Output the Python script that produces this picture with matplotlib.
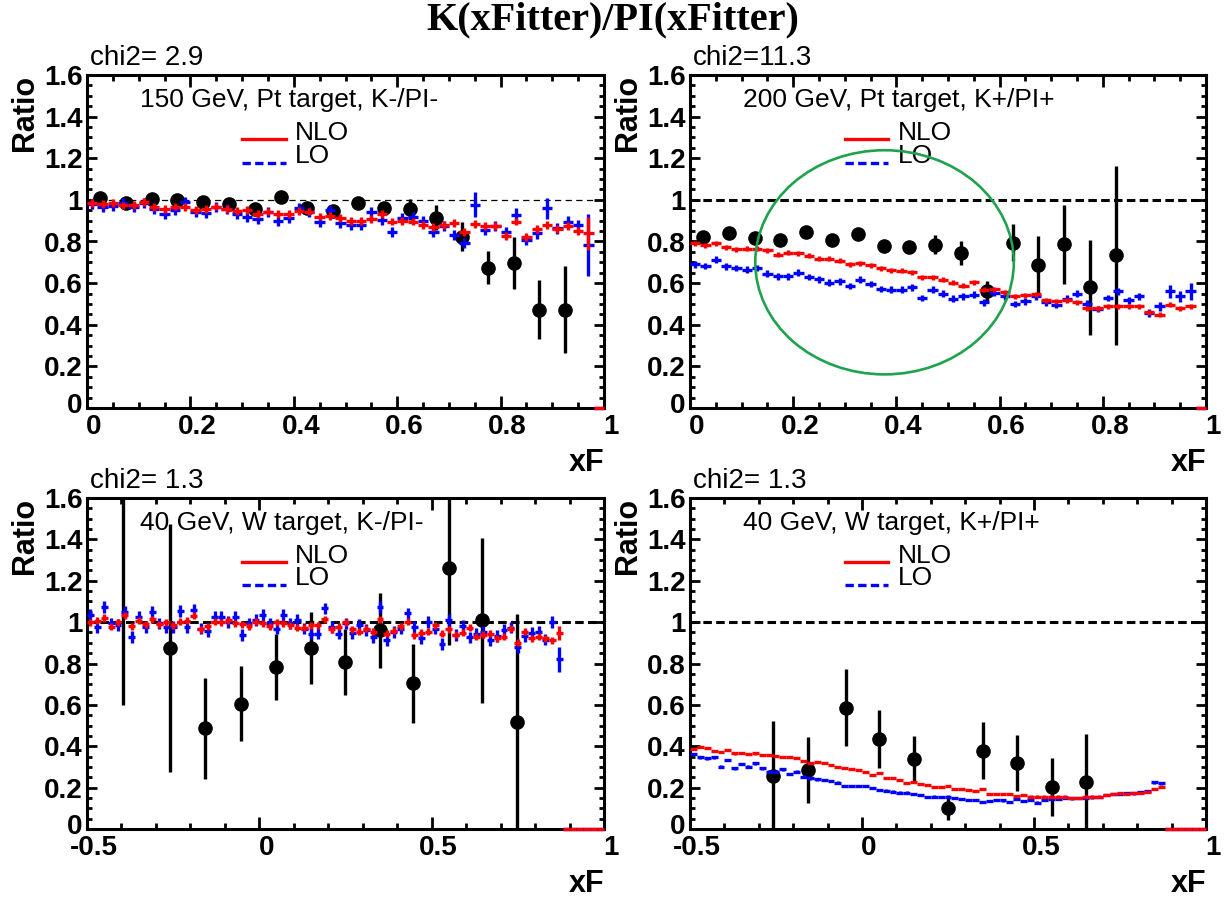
import numpy as np
import matplotlib.pyplot as plt
from matplotlib.patches import Ellipse
from matplotlib.ticker import MultipleLocator
from matplotlib.transforms import ScaledTranslation

plt.rcParams['font.family'] = ['Liberation Sans', 'DejaVu Sans']

# --- top left: 150 GeV, Pt, K-/PI-  (bins of 0.02 from 0 to 1, last bin empty)
tl_nlo = [0.984, 0.979, 0.984, 0.973, 0.976, 0.989, 0.965, 0.955, 0.968, 0.965,
          0.952, 0.955, 0.968, 0.955, 0.947, 0.952, 0.932, 0.944, 0.931, 0.931,
          0.947, 0.944, 0.920, 0.923, 0.915, 0.900, 0.900, 0.907, 0.932, 0.896,
          0.899, 0.896, 0.879, 0.871, 0.879, 0.887, 0.847, 0.884, 0.876, 0.875,
          0.826, 0.896, 0.823, 0.859, 0.879, 0.859, 0.875, 0.850, 0.839, 0.0]
tl_nlo_err = [0.019]*48 + [0.08, 0.0]
tl_lo = [0.979, 0.965, 0.971, 0.984, 0.965, 0.984, 0.955, 0.931, 0.952, 0.992,
         0.944, 0.939, 0.965, 0.955, 0.932, 0.920, 0.907, 0.944, 0.899, 0.912,
         0.960, 0.944, 0.896, 0.952, 0.891, 0.879, 0.879, 0.944, 0.904, 0.847,
         0.912, 0.920, 0.899, 0.847, 0.875, 0.831, 0.794, 0.976, 0.855, 0.875,
         0.847, 0.928, 0.807, 0.839, 0.960, 0.863, 0.896, 0.879, 0.783, 0.0]
tl_lo_err = [0.024]*37 + [0.06, 0.025, 0.025, 0.025, 0.035, 0.025, 0.025,
                          0.05, 0.025, 0.025, 0.025, 0.15, 0.0]
tl_data_x = [0.025, 0.075, 0.125, 0.175, 0.225, 0.275, 0.325, 0.375, 0.425, 0.475,
             0.525, 0.575, 0.625, 0.675, 0.725, 0.775, 0.825, 0.875, 0.925]
tl_data_y = [1.011, 0.984, 1.003, 0.997, 0.992, 0.979, 0.955, 1.016, 0.960, 0.947,
             0.984, 0.960, 0.955, 0.915, 0.823, 0.675, 0.698, 0.473, 0.473]
tl_data_err = [0.01, 0.01, 0.01, 0.01, 0.01, 0.01, 0.01, 0.01, 0.015, 0.02,
               0.03, 0.03, 0.05, 0.06, 0.07, 0.08, 0.125, 0.14, 0.21]

# --- top right: 200 GeV, Pt, K+/PI+
tr_nlo = [0.792, 0.781, 0.792, 0.773, 0.763, 0.766, 0.765, 0.757, 0.736, 0.747,
          0.744, 0.731, 0.717, 0.717, 0.707, 0.691, 0.696, 0.685, 0.672, 0.661,
          0.659, 0.653, 0.629, 0.629, 0.616, 0.603, 0.587, 0.605, 0.568, 0.571,
          0.555, 0.536, 0.541, 0.547, 0.517, 0.512, 0.517, 0.509, 0.480, 0.480,
          0.488, 0.488, 0.488, 0.488, 0.461, 0.448, 0.496, 0.480, 0.488, 0.0]
tr_nlo_err = [0.012]*49 + [0.0]
tr_lo = [0.691, 0.683, 0.712, 0.680, 0.672, 0.664, 0.672, 0.645, 0.632, 0.632,
         0.651, 0.629, 0.619, 0.603, 0.608, 0.587, 0.616, 0.595, 0.571, 0.568,
         0.568, 0.579, 0.528, 0.568, 0.549, 0.525, 0.536, 0.544, 0.507, 0.552,
         0.536, 0.499, 0.512, 0.536, 0.507, 0.496, 0.525, 0.549, 0.501, 0.475,
         0.528, 0.560, 0.517, 0.536, 0.456, 0.488, 0.560, 0.536, 0.560, 0.0]
tr_lo_err = [0.016]*44 + [0.02, 0.02, 0.03, 0.025, 0.04, 0.0]
tr_data_x = [0.025, 0.075, 0.125, 0.175, 0.225, 0.275, 0.325, 0.375, 0.425, 0.475,
             0.525, 0.575, 0.625, 0.675, 0.725, 0.775, 0.825]
tr_data_y = [0.821, 0.840, 0.819, 0.808, 0.845, 0.808, 0.835, 0.776, 0.773, 0.784,
             0.744, 0.560, 0.795, 0.685, 0.787, 0.579, 0.733]
tr_data_err = [0.01, 0.01, 0.01, 0.01, 0.01, 0.01, 0.01, 0.015, 0.03, 0.045,
               0.056, 0.05, 0.09, 0.14, 0.19, 0.23, 0.43]

# --- bottom left: 40 GeV, W, K-/PI-  (bins of 0.02 from -0.5 to 1, last 6 empty)
bl_nlo = [1.0, 1.006, 1.02, 0.977, 1.0, 1.034, 0.981, 1.006, 0.99, 1.013,
          0.989, 1.0, 0.986, 1.002, 1.006, 1.031, 0.965, 0.981, 1.002, 1.0,
          1.01, 0.994, 0.989, 0.981, 1.002, 0.994, 0.981, 1.0, 0.994, 0.986,
          0.974, 0.974, 0.986, 0.986, 1.013, 0.965, 0.977, 1.0,
          0.965, 0.953, 0.969, 0.953, 1.013, 0.945, 0.958, 0.981, 1.002, 0.937,
          0.948, 0.953, 0.986, 0.945, 0.965, 0.940, 0.948, 0.974, 0.929, 0.940,
          0.945, 0.921, 0.929, 0.969, 0.90, 0.953, 0.921, 0.929, 0.921, 0.913, 0.948,
          0.0, 0.0, 0.0, 0.0, 0.0, 0.0]
bl_nlo_err = [0.017]*68 + [0.035] + [0.0]*6
bl_lo = [1.034, 0.977, 1.074, 0.994, 0.986, 1.05, 0.929, 1.026, 0.977, 1.05,
         0.994, 0.977, 0.977, 1.055, 0.977, 1.058, 0.969, 0.958, 1.026, 1.026,
         1.002, 1.026, 0.937, 0.994, 1.01, 1.034, 0.994, 0.969, 1.034, 0.994,
         1.01, 0.969, 0.945, 0.945, 1.066, 0.977, 0.945, 0.994,
         0.948, 0.986, 0.961, 0.929, 1.074, 0.913, 0.953, 0.969, 1.042, 0.977,
         0.921, 1.002, 0.969, 0.894, 1.01, 0.937, 0.981, 0.926, 0.945, 0.953,
         0.913, 0.932, 0.961, 0.974, 0.881, 0.932, 0.948, 0.953, 0.916, 1.002, 0.82,
         0.0, 0.0, 0.0, 0.0, 0.0, 0.0]
bl_lo_err = [0.028]*68 + [0.06] + [0.0]*6
bl_data_x = [-0.395, -0.259, -0.157, -0.052, 0.049, 0.149, 0.249, 0.349, 0.447, 0.549, 0.647, 0.748]
bl_data_y = [1.75, 0.876, 0.486, 0.606, 0.783, 0.876, 0.809, 0.96, 0.704, 1.26, 1.008, 0.518]
bl_data_err = [1.15, 0.6, 0.244, 0.18, 0.16, 0.175, 0.16, 0.183, 0.19, 0.37, 0.40, 0.52]

# --- bottom right: 40 GeV, W, K+/PI+
br_nlo = [0.385, 0.395, 0.39, 0.378, 0.37, 0.381, 0.365, 0.368, 0.361, 0.365,
          0.357, 0.357, 0.352, 0.346, 0.349, 0.341, 0.33, 0.32, 0.325, 0.317,
          0.309, 0.301, 0.293, 0.29, 0.285, 0.277, 0.261, 0.269, 0.245, 0.245,
          0.237, 0.221, 0.229, 0.218, 0.213, 0.205, 0.201, 0.208,
          0.192, 0.192, 0.189, 0.184, 0.192, 0.168, 0.168, 0.168, 0.168, 0.16,
          0.163, 0.157, 0.157, 0.157, 0.157, 0.157, 0.157, 0.152, 0.152, 0.157,
          0.157, 0.157, 0.163, 0.168, 0.173, 0.168, 0.176, 0.176, 0.179, 0.195, 0.205,
          0.0, 0.0, 0.0, 0.0, 0.0, 0.0]
br_nlo_err = [0.005]*69 + [0.0]*6
br_lo = [0.362, 0.346, 0.341, 0.346, 0.301, 0.333, 0.293, 0.314, 0.301, 0.317,
         0.293, 0.277, 0.277, 0.288, 0.266, 0.277, 0.253, 0.245, 0.240, 0.237,
         0.233, 0.224, 0.208, 0.209, 0.208, 0.208, 0.197, 0.189, 0.186, 0.181,
         0.176, 0.176, 0.17, 0.165, 0.154, 0.157, 0.154, 0.157,
         0.15, 0.145, 0.14, 0.14, 0.13, 0.135, 0.14, 0.138, 0.13, 0.145,
         0.135, 0.14, 0.128, 0.14, 0.145, 0.145, 0.15, 0.148, 0.15, 0.152,
         0.153, 0.155, 0.165, 0.168, 0.17, 0.175, 0.172, 0.178, 0.182, 0.225, 0.22,
         0.0, 0.0, 0.0, 0.0, 0.0, 0.0]
br_lo_err = [0.006]*69 + [0.0]*6
br_data_x = [-0.259, -0.158, -0.047, 0.05, 0.151, 0.25, 0.351, 0.45, 0.552, 0.65]
br_data_y = [0.258, 0.285, 0.586, 0.433, 0.338, 0.103, 0.378, 0.317, 0.204, 0.229]
br_data_err = [0.265, 0.158, 0.185, 0.14, 0.11, 0.058, 0.138, 0.135, 0.14, 0.23]

headers = ["150 GeV, Pt target, K-/PI-", "200 GeV, Pt target, K+/PI+",
           "40 GeV, W target, K-/PI-", "40 GeV, W target, K+/PI+"]
chi2 = ["chi2= 2.9", "chi2=11.3", "chi2= 1.3", "chi2= 1.3"]

W, H = 1225, 897
fig = plt.figure(figsize=(W/100, H/100), dpi=100)


def box(l, t, r, b):
    return [l/W, 1 - b/H, (r - l)/W, (b - t)/H]


def panel(rect, xmin, major, minor, nlo, nlo_e, lo, lo_e, dx, dy, de,
          header, chi, thin_dash):
    ax = fig.add_axes(rect)
    n = len(nlo)
    xc = xmin + 0.01 + 0.02*np.arange(n)
    ax.errorbar(dx, dy, yerr=de, fmt='o', color='black', ms=9.5,
                elinewidth=2.4, capsize=0, zorder=3)
    ax.errorbar(xc, lo, xerr=0.01, yerr=lo_e, fmt='none', ecolor='blue',
                elinewidth=2.4, capsize=0, zorder=4, clip_on=False)
    ax.errorbar(xc, nlo, xerr=0.01, yerr=nlo_e, fmt='none', ecolor='red',
                elinewidth=2.4, capsize=0, zorder=5, clip_on=False)
    if thin_dash:
        ax.axhline(1, color='black', lw=0.9, ls=(0, (5, 3.5)), zorder=2)
    else:
        ax.axhline(1, color='black', lw=2.2, ls=(0, (2.8, 1.4)), zorder=2)
    ax.set_xlim(xmin, 1)
    ax.set_ylim(0, 1.6)
    ax.xaxis.set_minor_locator(MultipleLocator(minor))
    ax.yaxis.set_minor_locator(MultipleLocator(0.05))
    ax.set_yticks(np.arange(0, 1.61, 0.2))
    ax.set_yticklabels(['0', '0.2', '0.4', '0.6', '0.8', '1', '1.2', '1.4', '1.6'])
    if xmin == 0:
        ax.set_xticks([0, 0.2, 0.4, 0.6, 0.8, 1])
        ax.set_xticklabels(['0', '0.2', '0.4', '0.6', '0.8', '1'])
    else:
        ax.set_xticks([-0.5, 0, 0.5, 1])
        ax.set_xticklabels(['-0.5', '0', '0.5', '1'])
    ax.tick_params(which='both', direction='in', top=True, right=True, width=2.0)
    ax.tick_params(axis='x', which='major', length=8.5, pad=4)
    ax.tick_params(axis='x', which='minor', length=4.5)
    ax.tick_params(axis='y', which='major', length=7.5, pad=3)
    ax.tick_params(axis='y', which='minor', length=3.8)
    shift = ScaledTranslation(7/100, 0, fig.dpi_scale_trans)
    for lab in ax.get_xticklabels():
        lab.set_transform(lab.get_transform() + shift)
    # the "0" of the y axis sits a little high, as in ROOT
    lift = ScaledTranslation(0, 5/100, fig.dpi_scale_trans)
    y0 = ax.get_yticklabels()[0]
    y0.set_transform(y0.get_transform() + lift)
    for lab in ax.get_xticklabels() + ax.get_yticklabels():
        lab.set_fontsize(20)
        lab.set_fontweight('bold')
    for s in ax.spines.values():
        s.set_linewidth(2.2)
    tr = ax.transAxes
    ax.text(0.103, 0.925, header, transform=tr, fontsize=19, va='center', ha='left')
    ax.plot([0.30, 0.384], [0.808, 0.808], color='red', lw=2.4, transform=tr)
    ax.plot([0.30, 0.384], [0.736, 0.736], color='blue', lw=2.4,
            ls=(0, (2.5, 1.3)), transform=tr)
    ax.text(0.403, 0.826, "NLO", transform=tr, fontsize=19, va='center')
    ax.text(0.403, 0.757, "LO", transform=tr, fontsize=19, va='center')
    ax.text(0.006, 1.052, chi, transform=tr, fontsize=20, va='center', ha='left')
    ax.text(-0.12, 1.0, "Ratio", transform=tr, fontsize=22, fontweight='bold',
            rotation=90, va='top', ha='center')
    ax.text(1.0, -0.165, "xF", transform=tr, fontsize=22, fontweight='bold',
            va='center', ha='right')
    return ax


panel(box(87, 75, 604, 408), 0, 0.2, 0.05, tl_nlo, tl_nlo_err, tl_lo, tl_lo_err,
      tl_data_x, tl_data_y, tl_data_err, headers[0], chi2[0], True)
ax_tr = panel(box(690, 75, 1206, 408), 0, 0.2, 0.05, tr_nlo, tr_nlo_err, tr_lo, tr_lo_err,
              tr_data_x, tr_data_y, tr_data_err, headers[1], chi2[1], False)
panel(box(87, 498, 604, 829), -0.5, 0.5, 0.1, bl_nlo, bl_nlo_err, bl_lo, bl_lo_err,
      bl_data_x, bl_data_y, bl_data_err, headers[2], chi2[2], False)
panel(box(690, 498, 1206, 829), -0.5, 0.5, 0.1, br_nlo, br_nlo_err, br_lo, br_lo_err,
      br_data_x, br_data_y, br_data_err, headers[3], chi2[3], False)

# green circle drawn around the low-xF region
ax_tr.add_patch(Ellipse((0.377, 0.70), 0.501, 1.077, fill=False,
                        edgecolor='#1ea34c', lw=1.9, zorder=6))

fig.text(613/W, 1 - 20/H, "K(xFitter)/PI(xFitter)", family='Liberation Serif',
         fontsize=29, fontweight='bold', ha='center', va='center')

fig.savefig('out.png', dpi=100)
